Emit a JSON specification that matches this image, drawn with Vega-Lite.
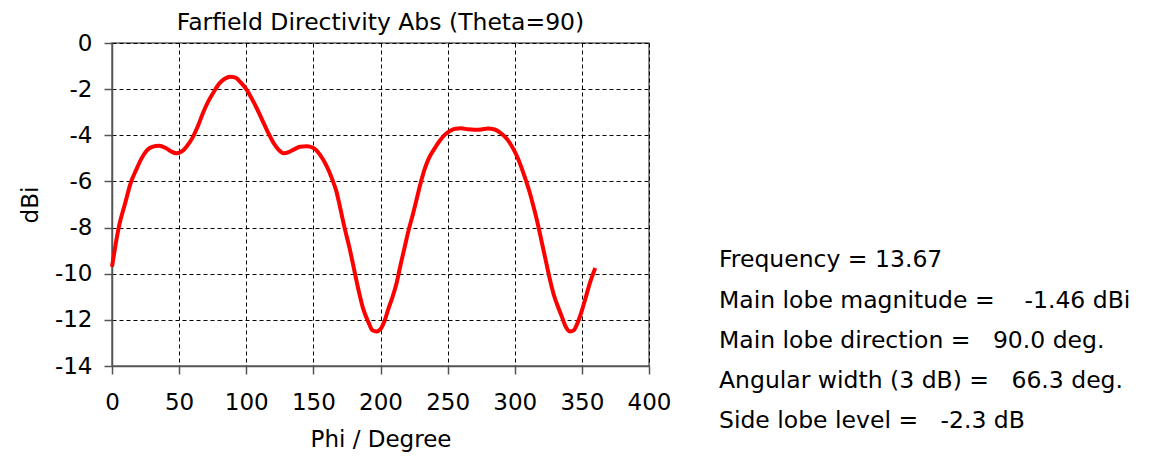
{
  "$schema": "https://vega.github.io/schema/vega-lite/v6.json",
  "padding": {"left": 18, "top": 9, "right": 5, "bottom": 5},
  "background": "white",
  "config": {
    "font": "DejaVu Sans",
    "view": {"stroke": "#666666", "strokeWidth": 1.5},
    "concat": {"spacing": 47}
  },
  "datasets": {
    "curve": [
      {"phi": 0, "dbi": -9.7}, {"phi": 5, "dbi": -8.0}, {"phi": 10, "dbi": -6.9}, {"phi": 14, "dbi": -6.05},
      {"phi": 18, "dbi": -5.5}, {"phi": 22, "dbi": -5.0}, {"phi": 26, "dbi": -4.65}, {"phi": 30, "dbi": -4.5},
      {"phi": 35, "dbi": -4.45}, {"phi": 40, "dbi": -4.55}, {"phi": 44, "dbi": -4.7}, {"phi": 48, "dbi": -4.78},
      {"phi": 52, "dbi": -4.7}, {"phi": 56, "dbi": -4.45}, {"phi": 60, "dbi": -4.1}, {"phi": 64, "dbi": -3.6},
      {"phi": 68, "dbi": -3.0}, {"phi": 72, "dbi": -2.5}, {"phi": 76, "dbi": -2.1}, {"phi": 80, "dbi": -1.75},
      {"phi": 84, "dbi": -1.55}, {"phi": 88, "dbi": -1.46}, {"phi": 92, "dbi": -1.5}, {"phi": 96, "dbi": -1.72},
      {"phi": 100, "dbi": -2.0}, {"phi": 104, "dbi": -2.4}, {"phi": 108, "dbi": -2.85}, {"phi": 112, "dbi": -3.35},
      {"phi": 116, "dbi": -3.85}, {"phi": 120, "dbi": -4.3}, {"phi": 124, "dbi": -4.62}, {"phi": 128, "dbi": -4.78},
      {"phi": 132, "dbi": -4.72}, {"phi": 136, "dbi": -4.6}, {"phi": 140, "dbi": -4.5}, {"phi": 145, "dbi": -4.48},
      {"phi": 150, "dbi": -4.55}, {"phi": 155, "dbi": -4.85}, {"phi": 160, "dbi": -5.35}, {"phi": 164, "dbi": -5.9},
      {"phi": 167, "dbi": -6.4}, {"phi": 170, "dbi": -7.15}, {"phi": 173, "dbi": -7.95}, {"phi": 177, "dbi": -8.9},
      {"phi": 181, "dbi": -10.0}, {"phi": 184, "dbi": -10.8}, {"phi": 187, "dbi": -11.5}, {"phi": 191, "dbi": -12.1},
      {"phi": 194, "dbi": -12.45}, {"phi": 197, "dbi": -12.5}, {"phi": 200, "dbi": -12.4}, {"phi": 203, "dbi": -12.05},
      {"phi": 206, "dbi": -11.5}, {"phi": 209, "dbi": -11.0}, {"phi": 212, "dbi": -10.4}, {"phi": 215, "dbi": -9.6},
      {"phi": 218, "dbi": -8.85}, {"phi": 221, "dbi": -8.1}, {"phi": 224, "dbi": -7.45}, {"phi": 227, "dbi": -6.75},
      {"phi": 230, "dbi": -6.05}, {"phi": 233, "dbi": -5.45}, {"phi": 236, "dbi": -5.0}, {"phi": 240, "dbi": -4.6},
      {"phi": 244, "dbi": -4.25}, {"phi": 248, "dbi": -3.97}, {"phi": 252, "dbi": -3.8}, {"phi": 256, "dbi": -3.72},
      {"phi": 260, "dbi": -3.7}, {"phi": 265, "dbi": -3.74}, {"phi": 270, "dbi": -3.76}, {"phi": 275, "dbi": -3.75},
      {"phi": 280, "dbi": -3.71}, {"phi": 285, "dbi": -3.75}, {"phi": 290, "dbi": -3.92}, {"phi": 295, "dbi": -4.22},
      {"phi": 299, "dbi": -4.6}, {"phi": 302, "dbi": -4.95}, {"phi": 305, "dbi": -5.4}, {"phi": 308, "dbi": -5.9},
      {"phi": 311, "dbi": -6.45}, {"phi": 314, "dbi": -7.1}, {"phi": 317, "dbi": -7.8}, {"phi": 320, "dbi": -8.6},
      {"phi": 323, "dbi": -9.4}, {"phi": 326, "dbi": -10.2}, {"phi": 329, "dbi": -10.9}, {"phi": 332, "dbi": -11.4},
      {"phi": 335, "dbi": -11.85}, {"phi": 338, "dbi": -12.3}, {"phi": 341, "dbi": -12.5}, {"phi": 344, "dbi": -12.45},
      {"phi": 347, "dbi": -12.1}, {"phi": 350, "dbi": -11.6}, {"phi": 353, "dbi": -11.0}, {"phi": 356, "dbi": -10.4},
      {"phi": 359, "dbi": -9.9}, {"phi": 360, "dbi": -9.75}
    ],
    "info": [
      {"line": 1, "label": "Frequency = 13.67"},
      {"line": 2, "label": "Main lobe magnitude =\u00a0\u00a0\u00a0 -1.46 dBi"},
      {"line": 3, "label": "Main lobe direction =\u00a0\u00a0 90.0 deg."},
      {"line": 4, "label": "Angular width (3 dB) =\u00a0\u00a0 66.3 deg."},
      {"line": 5, "label": "Side lobe level =\u00a0\u00a0 -2.3 dB"}
    ]
  },
  "hconcat": [
    {
      "width": 537,
      "height": 323,
      "title": {"text": "Farfield Directivity Abs (Theta=90)", "fontSize": 23.5, "fontWeight": "normal", "color": "#000000", "offset": -2, "font": "DejaVu Sans"},
      "data": {"name": "curve"},
      "mark": {"type": "line", "color": "#ff0000", "strokeWidth": 4, "interpolate": "monotone"},
      "encoding": {
        "x": {
          "field": "phi", "type": "quantitative",
          "scale": {"domain": [0, 400], "nice": false},
          "axis": {
            "title": "Phi / Degree", "values": [0, 50, 100, 150, 200, 250, 300, 350, 400],
            "labelExpr": "toString(datum.value)", "labelFlush": false, "labelOverlap": false,
            "grid": true, "gridColor": "#000000", "gridDash": [4, 3], "gridWidth": 1, "gridOpacity": 1,
            "domainColor": "#555555", "domainWidth": 1.5, "tickColor": "#555555", "tickSize": 8, "tickWidth": 1.5,
            "labelFontSize": 23, "labelColor": "#000000", "labelPadding": 17, "labelFont": "DejaVu Sans",
            "titleFontSize": 23, "titleFontWeight": "normal", "titleColor": "#000000", "titlePadding": 14, "titleFont": "DejaVu Sans"
          }
        },
        "y": {
          "field": "dbi", "type": "quantitative",
          "scale": {"domain": [-14, 0], "nice": false},
          "axis": {
            "title": "dBi", "values": [-14, -12, -10, -8, -6, -4, -2, 0],
            "labelExpr": "toString(datum.value)", "labelFlush": false, "labelOverlap": false,
            "grid": true, "gridColor": "#000000", "gridDash": [4, 3], "gridWidth": 1, "gridOpacity": 1,
            "domainColor": "#555555", "domainWidth": 1.5, "tickColor": "#555555", "tickSize": 8, "tickWidth": 1.5,
            "labelFontSize": 23, "labelColor": "#000000", "labelPadding": 12, "labelFont": "DejaVu Sans",
            "titleFontSize": 23, "titleFontWeight": "normal", "titleColor": "#000000", "titlePadding": 12, "titleFont": "DejaVu Sans"
          }
        }
      }
    },
    {
      "width": 420,
      "height": 400,
      "view": {"stroke": null},
      "data": {"name": "info"},
      "mark": {"type": "text", "align": "left", "baseline": "middle", "fontSize": 23.5, "font": "DejaVu Sans", "color": "#000000"},
      "encoding": {
        "x": {"value": 0},
        "y": {"field": "line", "type": "quantitative", "scale": {"domain": [-4.4, 5.54], "reverse": true, "nice": false, "zero": false}, "axis": null},
        "text": {"field": "label"}
      }
    }
  ]
}
